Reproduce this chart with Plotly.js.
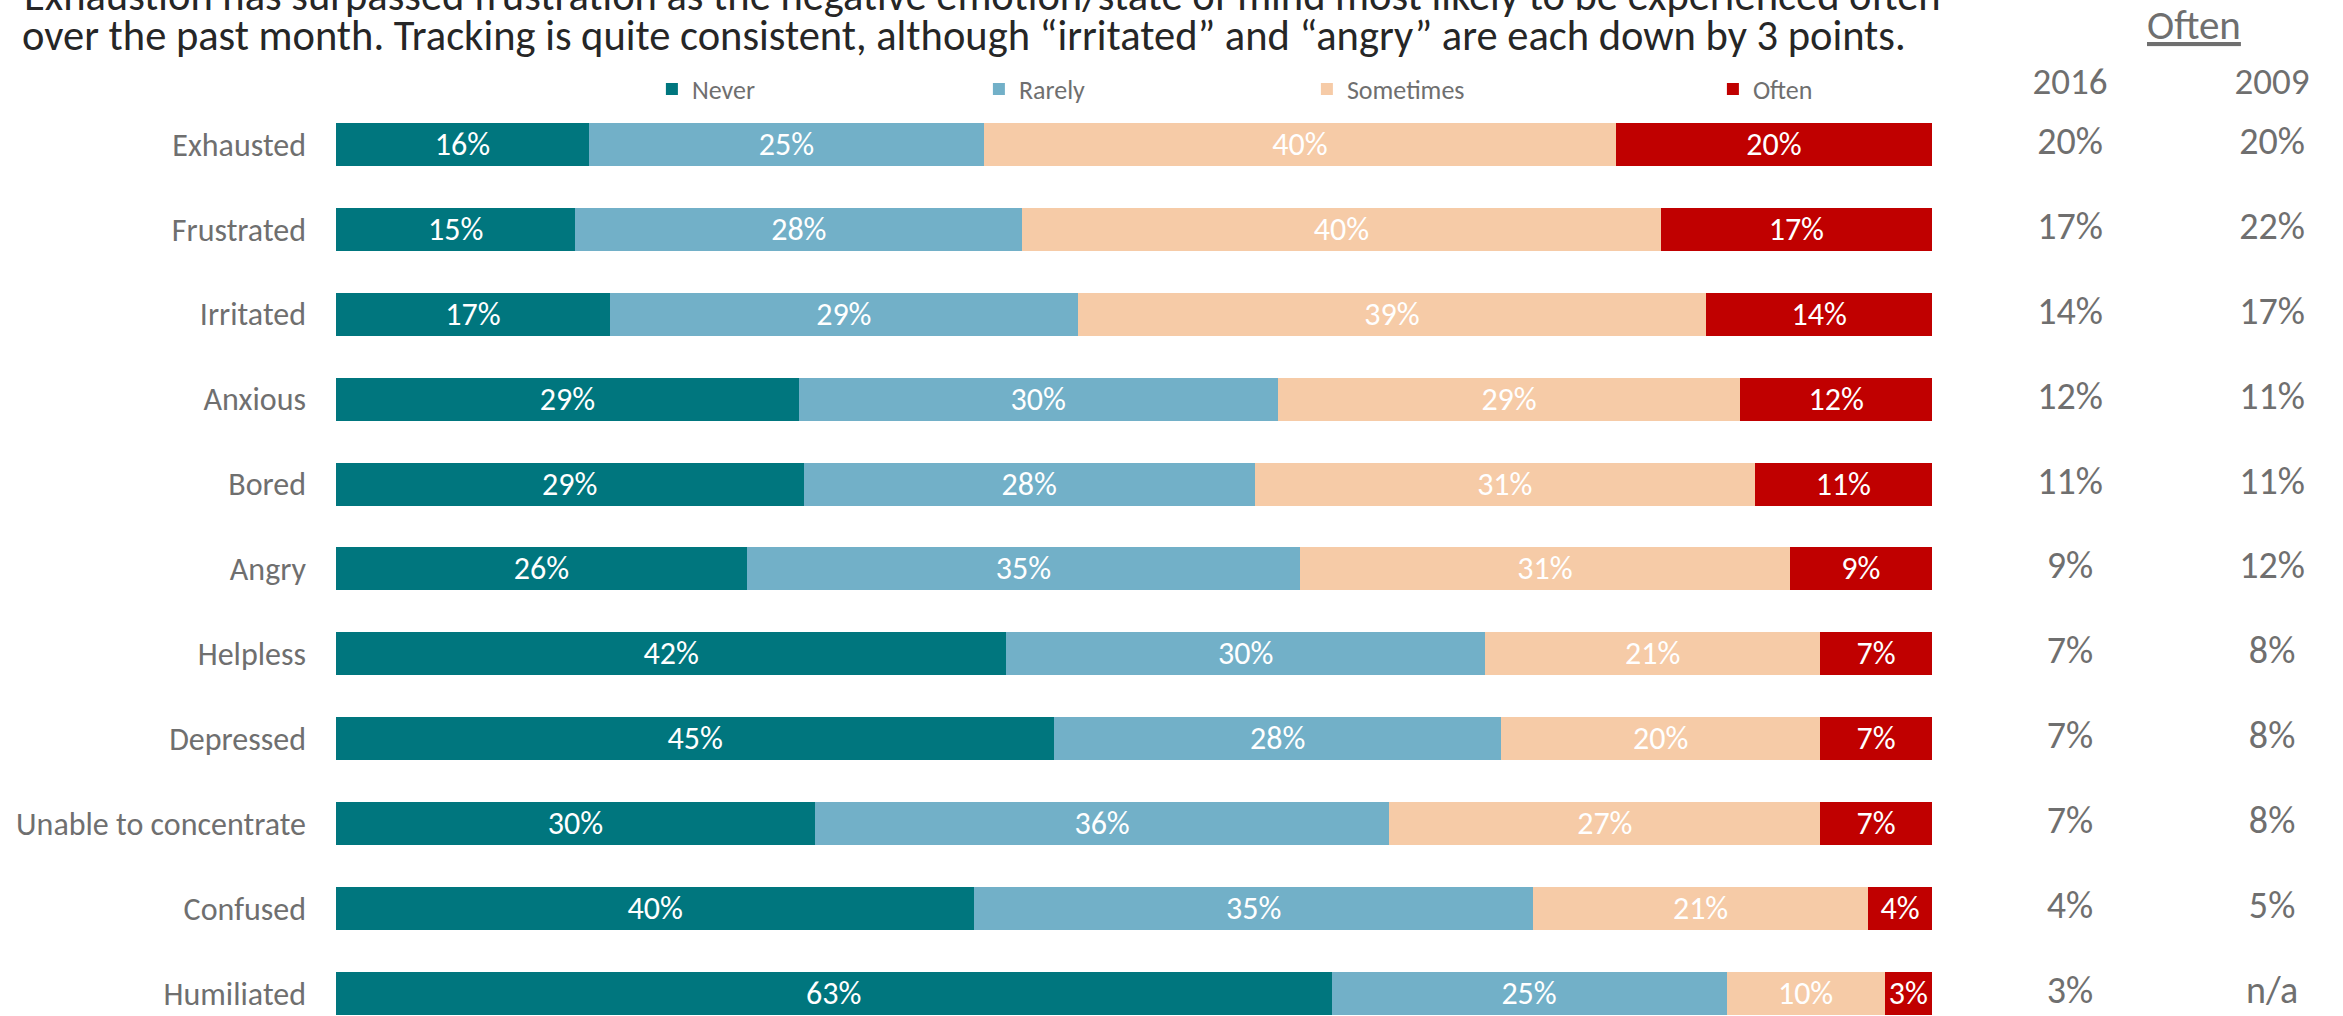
<!DOCTYPE html>
<html>
<head>
<meta charset="utf-8">
<script src="https://cdn.plot.ly/plotly-3.0.1.min.js"></script>
<style>
  html, body { margin: 0; padding: 0; background: #ffffff; }
  #chart { width: 2343px; height: 1016px; }
</style>
</head>
<body>
<div id="chart"></div>
<script>
// ---- data ----
const categories = ["Exhausted", "Frustrated", "Irritated", "Anxious", "Bored", "Angry",
  "Helpless", "Depressed", "Unable to concentrate", "Confused", "Humiliated"];
const never     = [16, 15, 17, 29, 29, 26, 42, 45, 30, 40, 63];
const rarely    = [25, 28, 29, 30, 28, 35, 30, 28, 36, 35, 25];
const sometimes = [40, 40, 39, 29, 31, 31, 21, 20, 27, 21, 10];
const often     = [20, 17, 14, 12, 11,  9,  7,  7,  7,  4,  3];
const often2016 = ["20%", "17%", "14%", "12%", "11%", "9%", "7%", "7%", "7%", "4%", "3%"];
const often2009 = ["20%", "22%", "17%", "11%", "11%", "12%", "8%", "8%", "8%", "5%", "n/a"];
const yearLabels = ["2016", "2009"];
const seriesNames = ["Never", "Rarely", "Sometimes", "Often"];
const titleLine1 = "Exhaustion has surpassed frustration as the negative emotion/state of mind most likely to be experienced often";
const titleLine2 = "over the past month. Tracking is quite consistent, although “irritated” and “angry” are each down by 3 points.";

// ---- styling ----
const FONT = "Carlito, Calibri, Lato, sans-serif";
const colors = ["#00767E", "#72B0C8", "#F6CBA7", "#C00000"];
const GRAY = "#6F6F6F";
const legendWidths = [282, 283, 361, 120];
const seriesValues = [never, rarely, sometimes, often];

const traces = seriesValues.map((vals, i) => ({
  type: "bar",
  orientation: "h",
  name: seriesNames[i],
  legendwidth: legendWidths[i],
  y: categories,
  x: vals,
  text: vals.map(v => v + "%"),
  texttemplate: "%{text}",
  textposition: "inside",
  insidetextanchor: "middle",
  textangle: 0,
  constraintext: "none",
  textfont: { family: FONT, size: 32, color: "#FFFFFF" },
  marker: { color: colors[i], line: { width: 0 } },
  hoverinfo: "skip",
  xaxis: "x",
  yaxis: "y"
}));

[often2016, often2009].forEach((vals, i) => {
  traces.push({
    type: "scatter",
    mode: "text",
    x: categories.map(() => yearLabels[i]),
    y: categories,
    text: vals,
    textposition: "middle center",
    textfont: { family: FONT, size: 38, color: GRAY },
    cliponaxis: false,
    showlegend: false,
    hoverinfo: "skip",
    xaxis: "x2",
    yaxis: "y"
  });
});

const W = 2343, H = 1016;
const L = 336, T = 102;
const plotW = W - L;          // r = 0
const plotH = H - T;          // b = 0
const barRight = 1932;

const layout = {
  width: W, height: H,
  margin: { l: L, r: 0, t: T, b: 0, pad: 0 },
  paper_bgcolor: "#FFFFFF",
  plot_bgcolor: "#FFFFFF",
  font: { family: FONT, color: GRAY },
  barmode: "stack",
  barnorm: "percent",
  bargap: 0.494,
  showlegend: true,
  legend: {
    orientation: "h",
    x: 0.1574, xanchor: "left",
    y: 1 + (T - 89) / plotH, yanchor: "middle",
    font: { family: FONT, size: 26, color: GRAY },
    entrywidthmode: "pixels",
    traceorder: "normal",
    bgcolor: "rgba(0,0,0,0)"
  },
  title: {
    text: titleLine2,
    font: { family: FONT, size: 42.5, color: "#262626" },
    xref: "container", x: 22 / W, xanchor: "left",
    yref: "container", y: 1 - 35 / H, yanchor: "middle"
  },
  xaxis: {
    domain: [0, (barRight - L) / plotW],
    range: [0, 100],
    showgrid: false, zeroline: false, showline: false,
    showticklabels: false, ticks: "", fixedrange: true
  },
  xaxis2: {
    domain: [0.8, 1],
    type: "category",
    categoryorder: "array",
    categoryarray: yearLabels,
    range: [-0.636, 1.351],
    anchor: "y",
    side: "top",
    showgrid: false, zeroline: false, showline: false,
    ticks: "",
    ticklabelstandoff: 0,
    tickfont: { family: FONT, size: 37, color: GRAY },
    fixedrange: true
  },
  yaxis: {
    type: "category",
    categoryorder: "array",
    categoryarray: categories,
    range: [10.266, -0.5],
    showgrid: false, zeroline: false, showline: false,
    ticks: "",
    ticklabelstandoff: 29,
    tickfont: { family: FONT, size: 32, color: GRAY },
    fixedrange: true
  },
  annotations: [
    {
      text: titleLine1,
      xref: "paper", yref: "paper",
      x: (22 - L) / plotW, xanchor: "left",
      y: 1 + (T + 4) / plotH, yanchor: "middle",
      showarrow: false,
      font: { family: FONT, size: 42.5, color: "#262626" }
    },
    {
      text: "<u>Often</u>",
      xref: "paper", yref: "paper",
      x: (2194 - L) / plotW, xanchor: "center",
      y: 1 + (T - 25) / plotH, yanchor: "middle",
      showarrow: false,
      font: { family: FONT, size: 41, color: GRAY }
    }
  ]
};

Plotly.newPlot("chart", traces, layout, { displayModeBar: false, staticPlot: true });
</script>
</body>
</html>
